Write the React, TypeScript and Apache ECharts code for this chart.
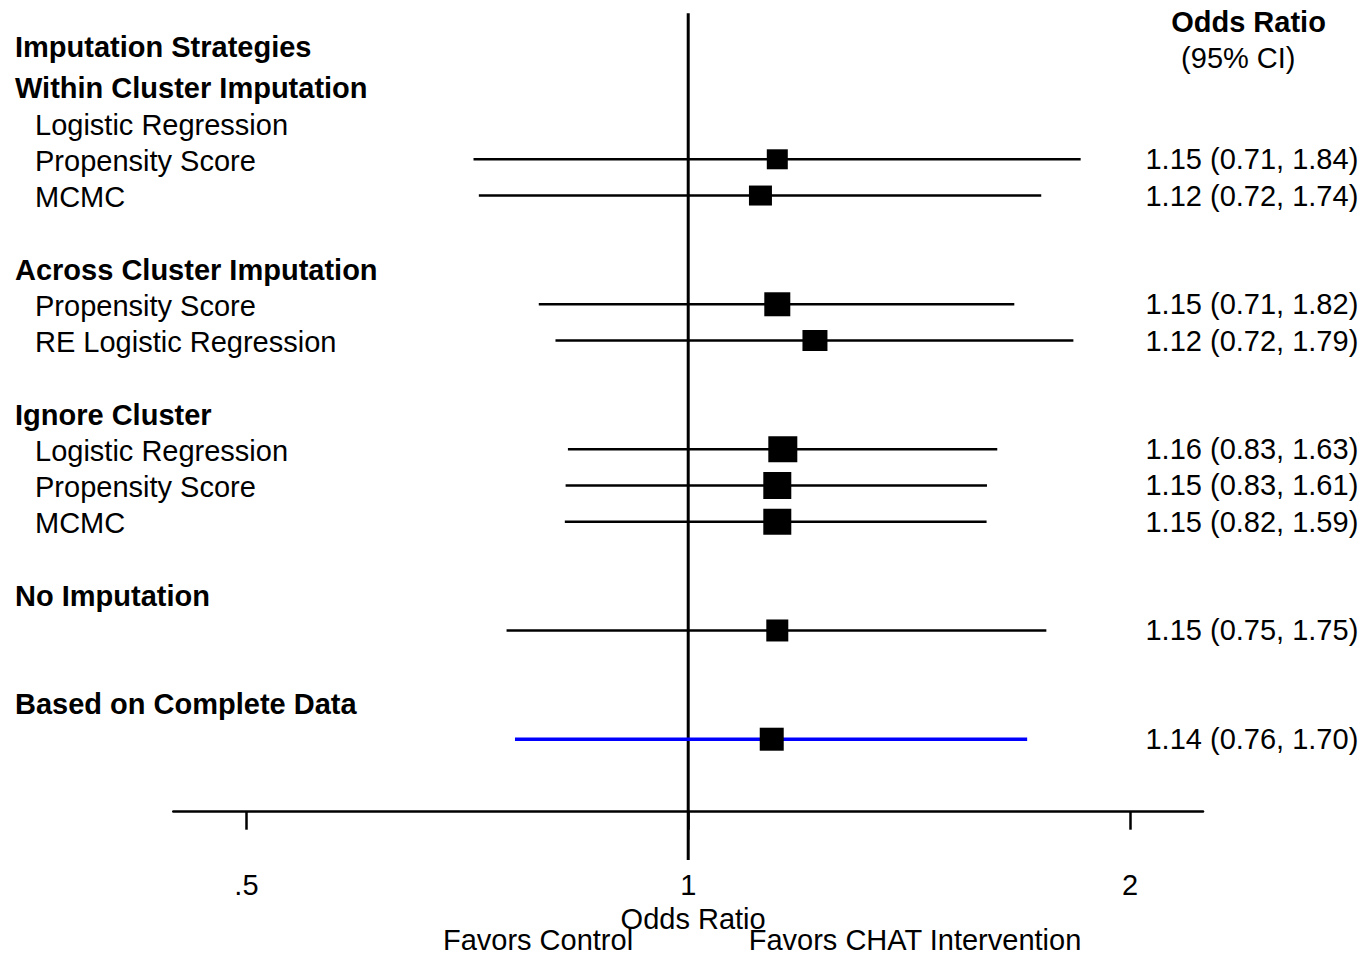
import React, { useEffect, useRef } from 'react';
import * as echarts from 'echarts';

// ---------- data ----------
const titleLabel = 'Imputation Strategies';
const titlePos = -1.15;

const rowLabels = [
  'Within Cluster Imputation',
  'Logistic Regression',
  'Propensity Score',
  'MCMC',
  'Across Cluster Imputation',
  'Propensity Score',
  'RE Logistic Regression',
  'Ignore Cluster',
  'Logistic Regression',
  'Propensity Score',
  'MCMC',
  'No Imputation',
  'Based on Complete Data',
];
const rowPositions = [0, 1, 2, 3, 5, 6, 7, 9, 10, 11, 12, 14, 17];
const rowIsHeader = [true, false, false, false, true, false, false, true, false, false, false, true, true];

const estRows = [2, 3, 6, 7, 10, 11, 12, 15, 18];
const estimates = [1.15, 1.12, 1.15, 1.22, 1.16, 1.15, 1.15, 1.15, 1.14];
const lowerCI = [0.714, 0.72, 0.791, 0.812, 0.828, 0.825, 0.824, 0.752, 0.762];
const upperCI = [1.851, 1.74, 1.668, 1.83, 1.624, 1.598, 1.597, 1.754, 1.702];
const ciLabels = [
  '1.15 (0.71, 1.84)',
  '1.12 (0.72, 1.74)',
  '1.15 (0.71, 1.82)',
  '1.12 (0.72, 1.79)',
  '1.16 (0.83, 1.63)',
  '1.15 (0.83, 1.61)',
  '1.15 (0.82, 1.59)',
  '1.15 (0.75, 1.75)',
  '1.14 (0.76, 1.70)',
];

const xTickValues = [0.5, 1, 2];
const xTickLabels = ['.5', '1', '2'];
const nullValue = 1;

// ---------- styles ----------
const boxW = [21, 23, 26, 25, 29, 28, 28, 22, 24];
const boxH = [20, 20, 24, 21, 26, 27, 26, 22, 23];
const lineColors = ['#000', '#000', '#000', '#000', '#000', '#000', '#000', '#000', '#0000ff'];
const lineWidths = [2.4, 2.4, 2.4, 2.4, 2.4, 2.4, 2.4, 2.4, 3.6];

const X_MIN = 0.4458;
const X_MAX = 2.2427;
const Y_MIN = -2.028;
const Y_MAX = 20;
const REF_BOTTOM = 21.33;

const FONT = '"Liberation Sans", Arial, Helvetica, sans-serif';
const FS = 29;

export default function App() {
  const ref = useRef<HTMLDivElement>(null);

  useEffect(() => {
    if (!ref.current) return;
    const chart = echarts.init(ref.current, undefined, { renderer: 'svg' });

    const leftValues = [titlePos, ...rowPositions];
    const leftFormatter = (v: number) => {
      if (Math.abs(v - titlePos) < 1e-6) return `{h|${titleLabel}}`;
      const i = rowPositions.findIndex((p) => Math.abs(p - v) < 1e-6);
      if (i < 0) return '';
      return rowIsHeader[i] ? `{h|${rowLabels[i]}}` : `{s|${rowLabels[i]}}`;
    };
    const rightFormatter = (v: number) => {
      const i = estRows.findIndex((p) => Math.abs(p - v) < 1e-6);
      return i < 0 ? '' : ciLabels[i];
    };

    const ciData = estimates.map((e, i) => [lowerCI[i], upperCI[i], e, estRows[i]]);

    const centered = (text: string, x: number, y: number, bold = false) => ({
      type: 'text',
      x,
      y,
      style: {
        text,
        fontFamily: FONT,
        fontSize: FS,
        fontWeight: bold ? 'bold' : 'normal',
        fill: '#000',
        align: 'center',
        verticalAlign: 'middle',
        textAlign: 'center',
        textVerticalAlign: 'middle',
      },
    });

    const option: any = {
      animation: false,
      backgroundColor: '#ffffff',
      textStyle: { fontFamily: FONT },
      grid: { left: 173.3, right: 161, top: 13.3, bottom: 143.3, containLabel: false },
      xAxis: {
        type: 'log',
        logBase: 2,
        min: X_MIN,
        max: X_MAX,
        name: 'Odds Ratio',
        nameLocation: 'middle',
        nameGap: 87,
        nameTextStyle: {
          fontFamily: FONT,
          fontSize: FS,
          color: '#000',
          lineHeight: FS,
          padding: [0, 0, 0, 10],
        },
        axisLine: { show: true, onZero: false, lineStyle: { color: '#000', width: 2.5 } },
        axisTick: {
          show: true,
          customValues: xTickValues,
          length: 18,
          inside: false,
          lineStyle: { color: '#000', width: 2.5 },
        },
        axisLabel: {
          show: true,
          customValues: xTickValues,
          margin: 59,
          fontFamily: FONT,
          fontSize: FS,
          color: '#000',
          lineHeight: FS,
          formatter: (v: number) => {
            const i = xTickValues.findIndex((t) => Math.abs(t - v) < 1e-6);
            return i < 0 ? '' : xTickLabels[i];
          },
        },
        splitLine: { show: false },
        minorTick: { show: false },
      },
      yAxis: [
        {
          type: 'value',
          inverse: true,
          min: Y_MIN,
          max: Y_MAX,
          position: 'left',
          axisLine: { show: false, onZero: false },
          axisTick: { show: false },
          splitLine: { show: false },
          axisLabel: {
            show: true,
            customValues: leftValues,
            align: 'left',
            margin: 158.3,
            formatter: leftFormatter,
            rich: {
              h: { fontFamily: FONT, fontSize: FS, fontWeight: 'bold', color: '#000', padding: [3, 0, 0, 0] },
              s: { fontFamily: FONT, fontSize: FS, color: '#000', padding: [3, 0, 0, 20] },
            },
          },
        },
        {
          type: 'value',
          inverse: true,
          min: Y_MIN,
          max: Y_MAX,
          position: 'right',
          axisLine: { show: false, onZero: false },
          axisTick: { show: false },
          splitLine: { show: false },
          axisLabel: {
            show: true,
            customValues: estRows,
            align: 'right',
            margin: 155.3,
            fontFamily: FONT,
            fontSize: FS,
            color: '#000',
            padding: [4, 0, 0, 0],
            formatter: rightFormatter,
          },
        },
      ],
      series: [
        {
          type: 'line',
          name: 'null line',
          xAxisIndex: 0,
          yAxisIndex: 0,
          data: [
            [nullValue, Y_MIN],
            [nullValue, REF_BOTTOM],
          ],
          symbol: 'none',
          clip: false,
          silent: true,
          lineStyle: { color: '#000', width: 3 },
          z: 1,
        },
        {
          type: 'custom',
          name: 'estimates',
          xAxisIndex: 0,
          yAxisIndex: 0,
          clip: false,
          z: 3,
          data: ciData,
          encode: { x: [0, 1, 2], y: 3 },
          renderItem: (params: any, api: any) => {
            const i = params.dataIndex;
            const y = api.value(3);
            const p1 = api.coord([api.value(0), y]);
            const p2 = api.coord([api.value(1), y]);
            const pe = api.coord([api.value(2), y]);
            const w = boxW[i];
            const h = boxH[i];
            return {
              type: 'group',
              children: [
                {
                  type: 'line',
                  shape: { x1: p1[0], y1: p1[1], x2: p2[0], y2: p2[1] },
                  style: { stroke: lineColors[i], lineWidth: lineWidths[i] },
                },
                {
                  type: 'rect',
                  shape: { x: pe[0] - w / 2, y: pe[1] - h / 2, width: w, height: h },
                  style: { fill: '#000', stroke: 'none' },
                },
              ],
            };
          },
        },
      ],
      graphic: [
        centered('Odds Ratio', 1248.5, 21.7, true),
        centered('(95% CI)', 1238.3, 58),
        centered('Favors Control', 538, 939.5),
        centered('Favors CHAT Intervention', 915, 939.5),
      ],
    };

    chart.setOption(option);
    return () => {
      chart.dispose();
    };
  }, []);

  return (
    <div
      ref={ref}
      style={{ position: 'absolute', left: 0, top: 0, width: 1364, height: 955, background: '#fff' }}
    />
  );
}
